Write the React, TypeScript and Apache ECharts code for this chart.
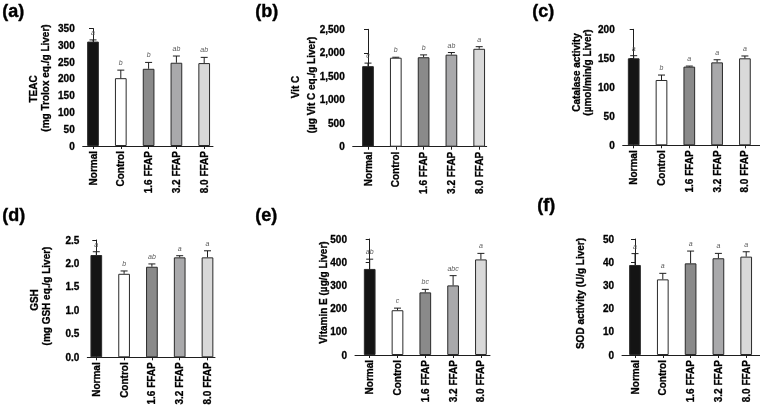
import React, { useEffect, useRef } from 'react';
import * as echarts from 'echarts';

const categories = ['Normal', 'Control', '1.6 FFAP', '3.2 FFAP', '8.0 FFAP'];
const barColors = ['#141414', '#ffffff', '#8a8a8a', '#a9a9ab', '#d9d9d9'];

const teacValues = [311, 202, 230, 248, 247];
const teacErrors = [5, 24, 19, 20, 17];
const teacLetters = ['a', 'b', 'b', 'ab', 'ab'];

const vitCValues = [1715, 1895, 1905, 1960, 2085];
const vitCErrors = [65, 10, 50, 45, 45];
const vitCLetters = ['c', 'b', 'b', 'ab', 'a'];

const catalaseValues = [150, 112.6, 135.6, 143, 150];
const catalaseErrors = [4.5, 8.5, 1, 4.5, 4];
const catalaseLetters = ['a', 'b', 'a', 'a', 'a'];

const gshValues = [2.18, 1.78, 1.93, 2.13, 2.13];
const gshErrors = [0.07, 0.06, 0.06, 0.035, 0.14];
const gshLetters = ['a', 'b', 'ab', 'a', 'a'];

const vitEValues = [371, 193, 270, 300, 412];
const vitEErrors = [42, 9, 13, 42, 26];
const vitELetters = ['ab', 'c', 'bc', 'abc', 'a'];

const sodValues = [38.8, 32.6, 39.5, 41.7, 42.4];
const sodErrors = [4.9, 2.6, 5.3, 2.1, 2.1];
const sodLetters = ['a', 'a', 'a', 'a', 'a'];

const FONT = '"Liberation Sans", Arial, Helvetica, sans-serif';
const SPACING = 27.8;
const INK = '#1e1e1e';
const TEXT_INK = '#000000';
const LETTER_INK = '#5a5a5a';

const fmtInt = (v: number) => String(v);
const fmtComma = (v: number) => v.toLocaleString('en-US');
const fmtDec = (v: number) => v.toFixed(1);

const panels = [
  {
    label: '(a)', labelX: 2, labelY: 2,
    values: teacValues, errors: teacErrors, letters: teacLetters,
    yMax: 350, yStep: 50, fmt: fmtInt,
    left: 82.7, top: 28.5, width: 130.3, height: 117.5, offset: 10.3,
    names: [
      { text: 'TEAC', x: 33.5, y: 89 },
      { text: '(mg Trolox eq./g Liver)', x: 45.5, y: 78 },
    ],
  },
  {
    label: '(b)', labelX: 255, labelY: 2,
    values: vitCValues, errors: vitCErrors, letters: vitCLetters,
    yMax: 2500, yStep: 500, fmt: fmtComma,
    left: 352.7, top: 29.3, width: 134, height: 117.4, offset: 15.3,
    names: [
      { text: 'Vit C', x: 295, y: 87 },
      { text: '(\u00b5g Vit C eq./g Liver)', x: 311, y: 85 },
    ],
  },
  {
    label: '(c)', labelX: 532, labelY: 2,
    values: catalaseValues, errors: catalaseErrors, letters: catalaseLetters,
    yMax: 200, yStep: 50, fmt: fmtInt,
    left: 622.7, top: 29.3, width: 137.3, height: 116, offset: 11,
    names: [
      { text: 'Catalase activity', x: 576, y: 72.5 },
      { text: '(\u00b5mol/min/g Liver)', x: 587, y: 72.5 },
    ],
  },
  {
    label: '(d)', labelX: 2, labelY: 206,
    values: gshValues, errors: gshErrors, letters: gshLetters,
    yMax: 2.5, yStep: 0.5, fmt: fmtDec,
    left: 87.3, top: 240, width: 127.7, height: 117.3, offset: 9,
    names: [
      { text: 'GSH', x: 34, y: 300 },
      { text: '(mg GSH eq./g Liver)', x: 46, y: 296 },
    ],
  },
  {
    label: '(e)', labelX: 255, labelY: 206,
    values: vitEValues, errors: vitEErrors, letters: vitELetters,
    yMax: 500, yStep: 100, fmt: fmtInt,
    left: 355, top: 239, width: 135, height: 116, offset: 14.7,
    names: [{ text: 'Vitamin E (\u00b5g/g Liver)', x: 323, y: 292.5 }],
  },
  {
    label: '(f)', labelX: 537, labelY: 196,
    values: sodValues, errors: sodErrors, letters: sodLetters,
    yMax: 50, yStep: 10, fmt: fmtInt,
    left: 622, top: 239, width: 138, height: 116, offset: 13,
    names: [{ text: 'SOD activity (U/g Liver)', x: 580, y: 293.5 }],
  },
];

function buildOption() {
  const grid: any[] = [];
  const xAxis: any[] = [];
  const yAxis: any[] = [];
  const series: any[] = [];
  const graphic: any[] = [];
  const idxs = categories.map((_, i) => i);
  const heavy = { textBorderColor: TEXT_INK, textBorderWidth: 0.3 };

  panels.forEach((p, k) => {
    const xMin = -p.offset / SPACING;
    const xMax = xMin + p.width / SPACING;
    grid.push({ left: p.left, top: p.top, width: p.width, height: p.height, containLabel: false });
    xAxis.push({
      type: 'value', gridIndex: k, min: xMin, max: xMax,
      splitLine: { show: false },
      axisLine: { show: true, lineStyle: { color: INK, width: 1 } },
      axisTick: { show: true, customValues: idxs, length: 3, inside: false, lineStyle: { color: INK } },
      axisLabel: {
        customValues: idxs, rotate: 90, margin: 5,
        formatter: (v: number) => categories[Math.round(v)] ?? '',
        fontFamily: FONT, fontWeight: 'bold', fontSize: 10, color: TEXT_INK, ...heavy,
      },
    });
    yAxis.push({
      type: 'value', gridIndex: k, min: 0, max: p.yMax, interval: p.yStep,
      splitLine: { show: false },
      axisLine: { show: true, lineStyle: { color: INK, width: 1 } },
      axisTick: { show: true, length: 4, lineStyle: { color: INK } },
      axisLabel: {
        margin: 8, formatter: p.fmt,
        fontFamily: FONT, fontWeight: 'bold', fontSize: 10, color: TEXT_INK, ...heavy,
      },
    });
    series.push({
      type: 'bar', xAxisIndex: k, yAxisIndex: k, barWidth: 11.7,
      data: p.values.map((v, i) => ({
        value: [i, v],
        itemStyle: { color: barColors[i], borderColor: '#2a2a2a', borderWidth: 1 },
      })),
    });
    const letters = p.letters;
    series.push({
      type: 'custom', xAxisIndex: k, yAxisIndex: k, z: 5,
      itemStyle: { color: LETTER_INK },
      data: p.values.map((v, i) => [i, v, p.errors[i]]),
      renderItem: (params: any, api: any) => {
        const i = api.value(0);
        const v = api.value(1);
        const e = api.value(2);
        const base = api.coord([i, v]);
        const top = api.coord([i, v + e]);
        return {
          type: 'group',
          children: [
            { type: 'line', shape: { x1: base[0], y1: base[1], x2: top[0], y2: top[1] }, style: { stroke: INK, lineWidth: 1 } },
            { type: 'line', shape: { x1: top[0] - 3.5, y1: top[1], x2: top[0] + 3.5, y2: top[1] }, style: { stroke: INK, lineWidth: 1 } },
            {
              type: 'text', x: top[0], y: top[1] - 7.5,
              style: {
                text: letters[params.dataIndex], fontSize: 7, fontStyle: 'italic', fontFamily: FONT,
                fill: LETTER_INK, align: 'center', verticalAlign: 'middle',
              },
            },
          ],
        };
      },
    });
    graphic.push({
      type: 'text', left: p.labelX, top: p.labelY,
      style: {
        text: p.label, fontSize: 18, fontWeight: 'bold', fontFamily: FONT, fill: TEXT_INK,
        stroke: TEXT_INK, lineWidth: 0.4,
      },
    });
    p.names.forEach((n) => {
      graphic.push({
        type: 'text', x: n.x, y: n.y, rotation: Math.PI / 2,
        style: {
          text: n.text, fontSize: 10, fontWeight: 'bold', fontFamily: FONT, fill: TEXT_INK,
          stroke: TEXT_INK, lineWidth: 0.3,
          align: 'center', verticalAlign: 'middle', textAlign: 'center', textVerticalAlign: 'middle',
        },
      });
    });
  });

  return { animation: false, grid, xAxis, yAxis, series, graphic };
}

export default function App() {
  const ref = useRef<HTMLDivElement>(null);
  useEffect(() => {
    document.body.style.margin = '0';
    document.body.style.background = '#ffffff';
    if (!ref.current) return;
    const chart = echarts.init(ref.current, null, { renderer: 'svg' });
    chart.setOption(buildOption() as any);
    return () => chart.dispose();
  }, []);
  return <div ref={ref} style={{ width: 760, height: 410, willChange: 'transform' }} />;
}
